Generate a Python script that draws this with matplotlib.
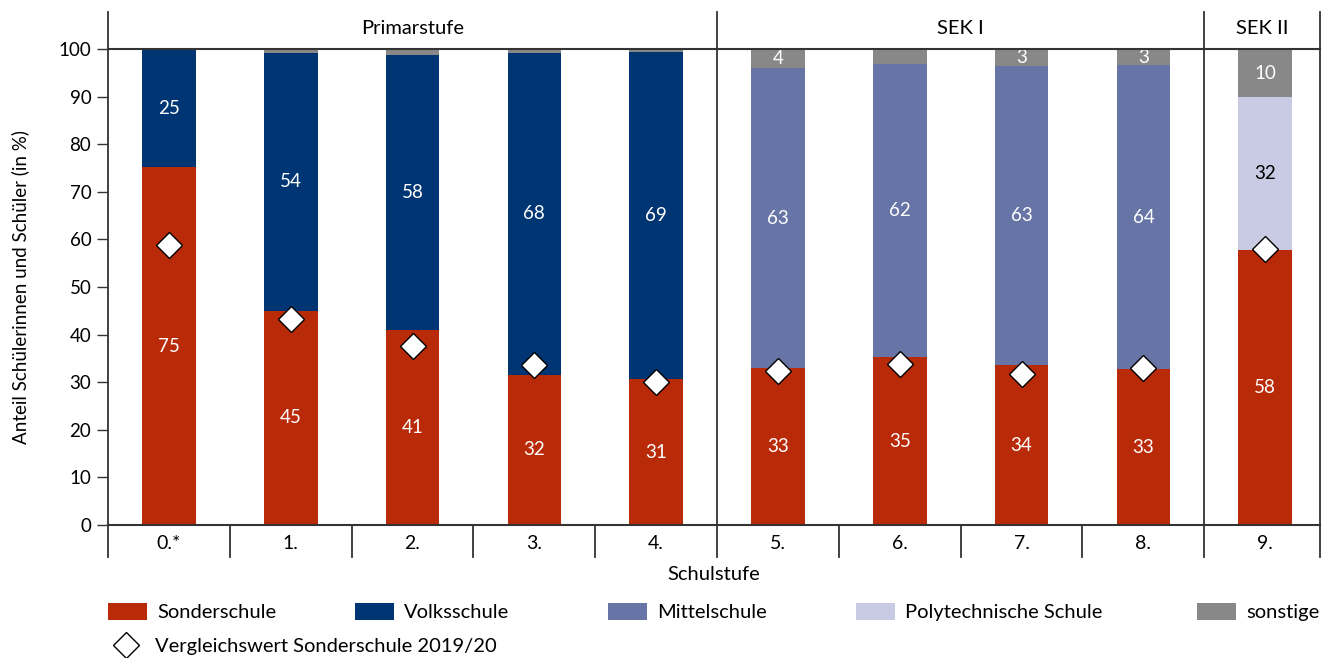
import matplotlib
matplotlib.use("Agg")
from matplotlib import pyplot as plt
from matplotlib.patches import Patch
from matplotlib.lines import Line2D

plt.rcParams['font.family'] = ['Lato', 'DejaVu Sans']
plt.rcParams['font.size'] = 13

# data
stufen = ["0.*", "1.", "2.", "3.", "4.", "5.", "6.", "7.", "8.", "9."]
sonderschule = [75.2, 45.0, 41.0, 31.6, 30.6, 32.9, 35.2, 33.6, 32.7, 57.8]
volksschule = [24.8, 54.2, 57.7, 67.6, 68.8, 0, 0, 0, 0, 0]
mittelschule = [0, 0, 0, 0, 0, 63.1, 61.7, 62.9, 63.9, 0]
polytechnische = [0, 0, 0, 0, 0, 0, 0, 0, 0, 32.1]
sonstige = [0, 0.8, 1.3, 0.8, 0.6, 4.0, 3.1, 3.5, 3.4, 10.1]
sonstige_labels = [None, None, None, None, None, "4", None, "3", "3", "10"]
vergleich = [58.8, 43.3, 37.6, 33.6, 30.1, 32.4, 33.8, 31.7, 33.0, 58.0]

stufen_gruppen = ["Primarstufe", "SEK I", "SEK II"]
gruppen_grenzen = [(-0.5, 4.5), (4.5, 8.5), (8.5, 9.45)]

c_sonder = "#B82A08"
c_volks = "#003574"
c_mittel = "#6674A6"
c_poly = "#C8CBE3"
c_sonst = "#888888"
c_line = "#333333"

fig = plt.figure(figsize=(13.27, 6.58), dpi=100)
ax = fig.add_axes([108 / 1327, 1 - 525 / 658, 1212 / 1327, 476 / 658])

x = list(range(len(stufen)))
w = 0.44
bottom = [0] * len(x)
serien = [
    (sonderschule, c_sonder, "white"),
    (volksschule, c_volks, "white"),
    (mittelschule, c_mittel, "white"),
    (polytechnische, c_poly, "black"),
    (sonstige, c_sonst, "white"),
]
for vals, col, tcol in serien:
    ax.bar(x, vals, w, bottom=bottom, color=col, linewidth=0, zorder=2)
    for i, v in enumerate(vals):
        if vals is sonstige:
            lab = sonstige_labels[i]
        else:
            lab = str(round(v)) if v >= 5 else None
        if lab:
            ax.text(i, bottom[i] + v / 2, lab, ha="center", va="center",
                    color=tcol, fontsize=13.5, zorder=3)
    bottom = [b + v for b, v in zip(bottom, vals)]

ax.plot(x, vergleich, linestyle="none", marker="D", markersize=13,
        markerfacecolor="white", markeredgecolor="black", markeredgewidth=1,
        zorder=4)

ax.set_xlim(-0.5, 9.45)
ax.set_ylim(0, 100)
ax.set_yticks(range(0, 101, 10))
ax.tick_params(axis="y", length=8, width=1, color=c_line, labelsize=13.5, pad=4)
ax.set_xticks(x)
ax.set_xticklabels(stufen)
ax.tick_params(axis="x", length=0, labelsize=14, pad=7)
ax.set_xlabel("Schulstufe", fontsize=14.5, labelpad=10)
ax.set_ylabel("Anteil Schülerinnen und Schüler (in %)", fontsize=13.5, labelpad=21)

for s in ["top", "right", "left"]:
    ax.spines[s].set_visible(False)
ax.spines["bottom"].set_color(c_line)
ax.spines["bottom"].set_linewidth(1.5)

# frame: header band and separators
top_y, low_y = 107.8, -6.8
ax.plot([-0.5, 9.45], [100, 100], color=c_line, lw=1.5, clip_on=False, zorder=5)
for xb in [-0.5, 4.5, 8.5, 9.45]:
    ax.plot([xb, xb], [low_y, top_y], color=c_line, lw=1.3, clip_on=False, zorder=5)
for xb in [0.5, 1.5, 2.5, 3.5, 5.5, 6.5, 7.5]:
    ax.plot([xb, xb], [low_y, 0], color=c_line, lw=1.3, clip_on=False, zorder=5)
for name, (a, b) in zip(stufen_gruppen, gruppen_grenzen):
    ax.text((a + b) / 2, 104.4, name, ha="center", va="center", fontsize=14.5)

# legend, one entry per slot as in the reference
legend_eintraege = [
    (Patch(facecolor=c_sonder), "Sonderschule", 108, 603),
    (Patch(facecolor=c_volks), "Volksschule", 355, 603),
    (Patch(facecolor=c_mittel), "Mittelschule", 608, 603),
    (Patch(facecolor=c_poly), "Polytechnische Schule", 856, 603),
    (Patch(facecolor=c_sonst), "sonstige", 1197, 603),
    (Line2D([], [], linestyle="none", marker="D", markersize=13,
            markerfacecolor="white", markeredgecolor="black",
            markeredgewidth=1), "Vergleichswert Sonderschule 2019/20", 106, 637),
]
for h, lab, px, py in legend_eintraege:
    fig.legend(handles=[h], labels=[lab], loc="upper left",
               bbox_to_anchor=(px / 1327, 1 - py / 658), frameon=False,
               fontsize=14.5, handlelength=1.95, handleheight=0.9,
               handletextpad=0.5, borderpad=0, borderaxespad=0)

plt.savefig("out.png", dpi=100)
